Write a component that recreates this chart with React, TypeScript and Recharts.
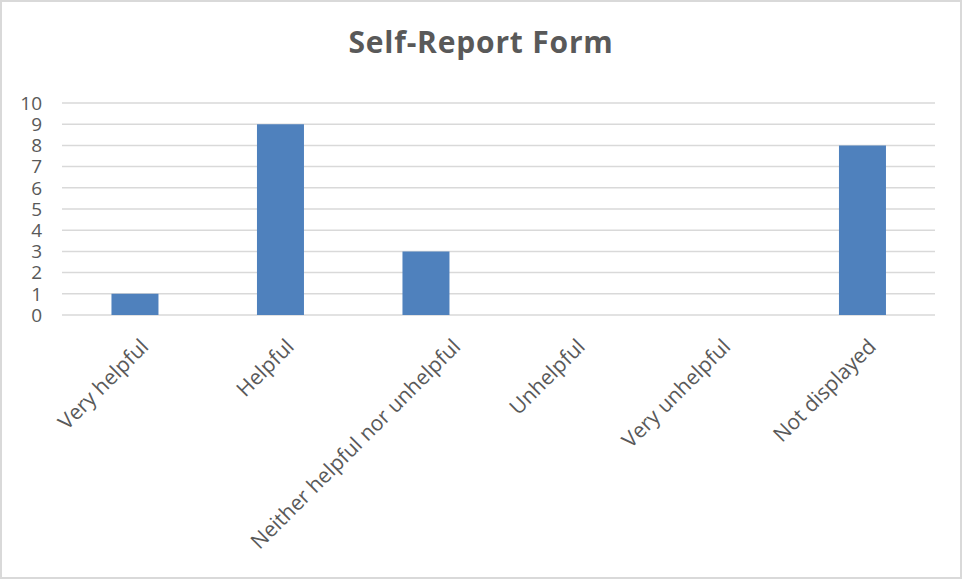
import { BarChart, Bar, XAxis, YAxis, CartesianGrid } from "recharts";

const categories = [
  "Very helpful",
  "Helpful",
  "Neither helpful nor unhelpful",
  "Unhelpful",
  "Very unhelpful",
  "Not displayed",
];
const counts = [1, 9, 3, 0, 0, 8];
const yTicks = [0, 1, 2, 3, 4, 5, 6, 7, 8, 9, 10];

const data = categories.map((name, i) => ({ name, value: counts[i] }));

const FONT = "'Open Sans', sans-serif";
const TEXT = "#595959";

function AngledTick(props: any) {
  const { x, y, payload } = props;
  // the long label sits a bit further right, as in the original chart
  const dx = String(payload.value).length > 20 ? 36 : 15;
  const tx = x + dx;
  const ty = y + 25;
  return (
    <text
      x={tx}
      y={ty}
      transform={`rotate(-45, ${tx}, ${ty})`}
      textAnchor="end"
      fill={TEXT}
      fontFamily={FONT}
      fontSize={21}
    >
      {payload.value}
    </text>
  );
}

export default function App() {
  return (
    <div
      style={{
        position: "absolute",
        left: 0,
        top: 0,
        width: 962,
        height: 579,
        background: "#fff",
        boxSizing: "border-box",
        border: "2px solid #d9d9d9",
      }}
    >
      <div
        style={{
          position: "absolute",
          left: 0,
          width: 958,
          top: 19,
          textAlign: "center",
          fontFamily: FONT,
          fontWeight: 700,
          fontSize: 30,
          letterSpacing: 0.8,
          color: TEXT,
        }}
      >
        Self-Report Form
      </div>
      <div style={{ position: "absolute", left: -2, top: -2 }}>
        <BarChart
          width={962}
          height={579}
          data={data}
          margin={{ top: 103, right: 27, bottom: 0, left: 0 }}
          barCategoryGap="34%"
        >
          <CartesianGrid vertical={false} stroke="#d9d9d9" strokeWidth={1.5} />
          <XAxis
            dataKey="name"
            interval={0}
            axisLine={false}
            tickLine={false}
            height={264}
            tick={<AngledTick />}
          />
          <YAxis
            width={62}
            domain={[0, 10]}
            ticks={yTicks}
            interval={0}
            axisLine={false}
            tickLine={false}
            tickMargin={14}
            tick={{ fill: TEXT, fontFamily: FONT, fontSize: 19 }}
          />
          <Bar dataKey="value" fill="#4f81bd" isAnimationActive={false} />
        </BarChart>
      </div>
    </div>
  );
}
